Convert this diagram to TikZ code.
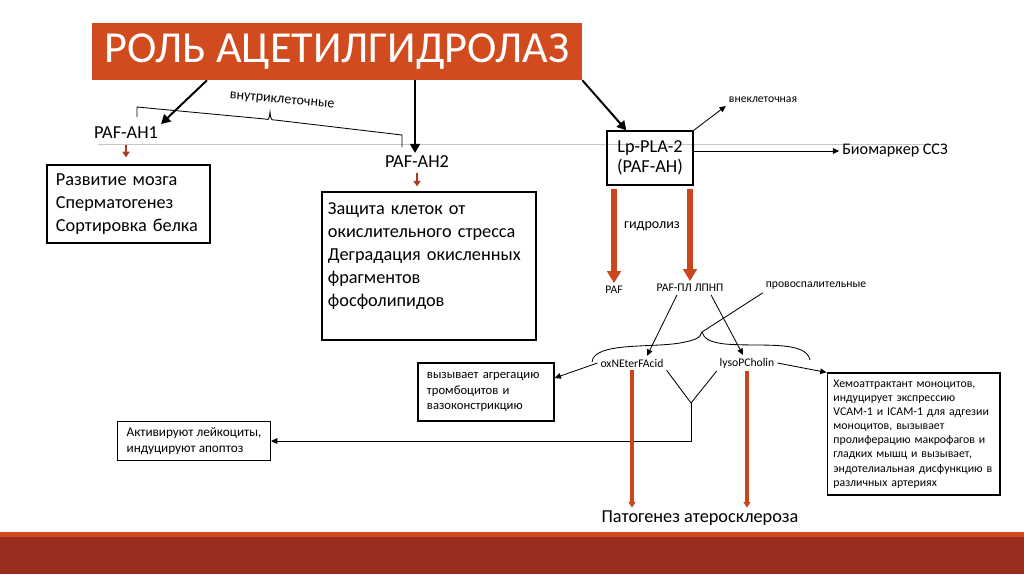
\documentclass[tikz,border=0pt]{standalone}
\usepackage{fontspec}
\setmainfont{Carlito}
\usetikzlibrary{arrows.meta,positioning,calc}
\definecolor{titleorange}{HTML}{D24B1F}
\definecolor{banddark}{HTML}{9B2D1F}
\definecolor{hydroorange}{HTML}{C9461E}
\definecolor{markbrown}{HTML}{A63B22}
\tikzset{
  % Base styles
  diagram base/.style={x=0.025cm, y=-0.025cm},
  % Text nodes
  title node/.style={rectangle, fill=titleorange, text=white, minimum width=12.25cm, minimum height=1.425cm, inner sep=0pt, font=\fontsize{31.5}{34}\selectfont},
  label text/.style={inner sep=2pt, font=\fontsize{13}{16}\selectfont},
  small text/.style={inner sep=2pt, font=\fontsize{8.3}{10}\selectfont},
  % Boxes
  info box/.style={rectangle, draw, line width=0.9pt, align=left, inner ysep=2pt, font=\fontsize{13}{16.4}\selectfont},
  note box/.style={rectangle, draw, line width=0.8pt, align=left, inner ysep=2pt, font=\fontsize{9}{11}\selectfont},
  % Connectors
  main arrow/.style={-{Triangle[width=7pt,length=6.5pt]}, line width=1.4pt},
  thin arrow/.style={-{Triangle[width=4pt,length=4.5pt]}, line width=0.6pt},
  hydro arrow/.style={-{Triangle[width=9.5pt,length=8.5pt]}, color=hydroorange, line width=4.6pt},
  patho arrow/.style={-{Triangle[width=5pt,length=4pt]}, color=hydroorange, line width=2.6pt},
  mark arrow/.style={-{Triangle[width=5pt,length=4pt]}, color=markbrown, line width=2pt},
}

\begin{document}
\begin{tikzpicture}[diagram base]
\useasboundingbox (0,0) rectangle (1024,574);

% Bottom band and guide line
\fill[titleorange] (0,532) rectangle (1024,537);
\fill[banddark] (0,537) rectangle (1024,574);
\draw[gray!45, line width=0.5pt] (98,144) -- (940,144);

% Title
\node[title node] (title) at (337,51.5) {РОЛЬ АЦЕТИЛГИДРОЛАЗ};

% Intracellular enzymes
\node[label text] (ah1) at (126,133) {PAF-AH1};
\node[label text] (ah2) at (417,162) {PAF-AH2};
\node[small text, rotate=-5, font=\fontsize{10}{12}\selectfont] (intra) at (282,101) {внутриклеточные};
\node[info box, text width=3.625cm, inner xsep=0.225cm, minimum height=1.95cm] (brain) at (128.5,204)
  {Развитие мозга\\Сперматогенез\\Сортировка белка};
\node[info box, text width=5.05cm, inner xsep=0.15cm, minimum height=3.7cm] (protect) at (429,266)
  {Защита клеток от\\окислительного стресса\\Деградация окисленных\\фрагментов\\фосфолипидов\\\mbox{}};

% Extracellular enzyme
\node[info box, align=center, minimum width=2.15cm, minimum height=1.35cm, font=\fontsize{13}{14.2}\selectfont] (lp) at (650,158) {Lp-PLA-2\\(PAF-AH)};
\node[small text] (extra) at (763,100) {внеклеточная};
\node[label text, font=\fontsize{11.5}{14}\selectfont] (marker) at (895,151) {Биомаркер ССЗ};
\node[label text, font=\fontsize{10}{12}\selectfont] (hydro) at (652,226) {гидролиз};
\node[small text] (paf) at (614,290) {PAF};
\node[small text] (pafpl) at (690,288) {PAF-ПЛ ЛПНП};
\node[small text] (proinfl) at (816,286) {провоспалительные};
\node[small text] (ox) at (632,363) {oxNEterFAcid};
\node[small text] (lyso) at (747,363) {lysoPCholin};
\coordinate (bracetip) at (702,332);
\coordinate (fork) at (691,403);

% Effects
\node[note box, text width=2.95cm, inner xsep=0.225cm, minimum height=1.45cm] (aggreg) at (486,392)
  {вызывает агрегацию\\тромбоцитов и\\вазоконстрикцию};
\node[note box, inner xsep=0.225cm, minimum height=0.975cm, font=\fontsize{9.4}{11}\selectfont] (leuko) at (194,441)
  {Активируют лейкоциты,\\индуцируют апоптоз};
\node[note box, text width=4.0cm, inner xsep=0.16cm, minimum height=3.05cm, font=\fontsize{8.4}{10}\selectfont] (chemo) at (913.5,434)
  {Хемоаттрактант моноцитов,\\индуцирует экспрессию\\VCAM-1 и ICAM-1 для адгезии\\моноцитов, вызывает\\пролиферацию макрофагов и\\гладких мышц и вызывает,\\эндотелиальная дисфункцию в\\различных артериях};
\node[label text] (patho) at (700,518) {Патогенез атеросклероза};

% Braces
\draw[line width=0.6pt] (137,117) -- (137,107) -- (265,119) .. controls (269,120) .. (270,112)
  .. controls (271,120) .. (275,120) -- (402,135) -- (402,147);
\draw[line width=0.6pt] (592,362) .. controls (594,342) and (650,348) .. (680,343)
  .. controls (696,340) and (700,338) .. (bracetip)
  .. controls (704,338) and (708,342) .. (725,344)
  .. controls (760,347) and (806,340) .. (810,360);

% Title arrows
\draw[main arrow] ([xshift=-3.25cm]title.south) -- (ah1.north east);
\draw[main arrow] ([xshift=1.95cm]title.south) -- ([xshift=1.95cm]title.south |- ah2.north);
\draw[main arrow] (title.south east) -- ([xshift=0.5cm]lp.north west);

% Lp-PLA-2 arrows
\draw[thin arrow] (lp.north east) -- (extra.south west);
\draw[thin arrow] (lp.east |- marker.west) -- (marker.west);
\draw[hydro arrow] ([yshift=-0.075cm]lp.south -| paf.north) -- (paf.north);
\draw[hydro arrow] ([yshift=-0.075cm]lp.south -| pafpl.north) -- (pafpl.north);

% Small marks
\draw[mark arrow, shorten <=2pt, shorten >=5pt] (ah1.south) -- (ah1.south |- brain.north);
\draw[mark arrow, shorten <=1.5pt, shorten >=3.5pt] (ah2.south) -- (ah2.south |- protect.north);

% Products
\draw[thin arrow] ([xshift=-0.325cm]pafpl.south) -- ([xshift=0.375cm]ox.north);
\draw[thin arrow] ([xshift=0.525cm]pafpl.south) -- ([xshift=-0.1cm]lyso.north);
\draw[line width=0.6pt] (proinfl.south west) -- (bracetip);
\draw[thin arrow] (ox.west) -- ([yshift=0.35cm]aggreg.east);
\draw[thin arrow] (lyso.east) -- (chemo.north west);
\draw[line width=0.6pt] (ox.south east) -- (fork) -- (lyso.south west);
\draw[thin arrow] (fork) -- (fork |- leuko.east) -- (leuko.east);
\draw[patho arrow] (ox.south) -- (ox.south |- patho.north);
\draw[patho arrow] (lyso.south) -- (lyso.south |- patho.north);
\end{tikzpicture}
\end{document}
